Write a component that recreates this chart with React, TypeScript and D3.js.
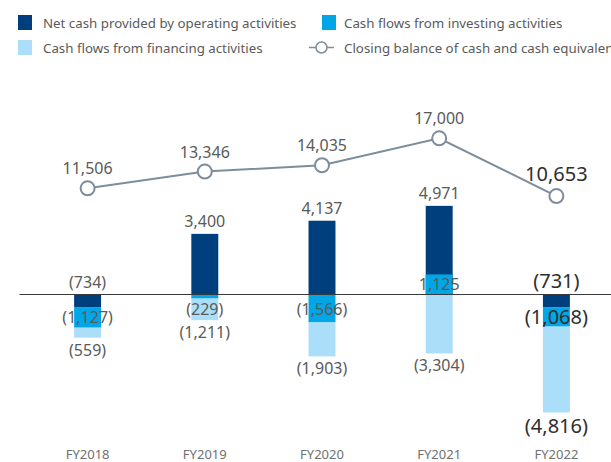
import React from "react";
import * as d3 from "d3";

const years = ["FY2018", "FY2019", "FY2020", "FY2021", "FY2022"];
const operating = [-734, 3400, 4137, 4971, -731];
const investing = [-1127, -229, -1566, 1125, -1068];
const financing = [-559, -1211, -1903, -3304, -4816];
const closing = [11506, 13346, 14035, 17000, 10653];
const seriesNames = [
  "Net cash provided by operating activities",
  "Cash flows from investing activities",
  "Cash flows from financing activities",
  "Closing balance of cash and cash equivalents",
];

const W = 611;
const H = 462;
const COLORS = ["#003f7d", "#00a6e6", "#abdef8"];
const LINE_COLOR = "#7d8d9b";
const TEXT = "#5a5a5a";
const TEXT_BOLD = "#2e2e2e";
const FONT = "'Noto Sans', 'Open Sans', sans-serif";

const fmt = (v: number) => {
  const s = d3.format(",")(Math.abs(v));
  return v < 0 ? `(${s})` : s;
};

export default function App() {
  const x = d3.scaleBand<string>().domain(years).range([29, 615]).paddingInner(0.77).paddingOuter(0.385);
  const yBar = d3.scaleLinear().domain([-6000, 6000]).range([294.5 + 107, 294.5 - 107]);
  const yLine = d3.scaleLinear().domain([0, 17000]).range([293, 138.3]);
  const zero = yBar(0);
  const series = [operating, investing, financing];

  // positive values drawn from zero (overlapping), negative values stacked downward
  const segs: { i: number; k: number; y0: number; y1: number; v: number }[] = [];
  years.forEach((_, i) => {
    let neg = 0;
    series.forEach((arr, k) => {
      const v = arr[i];
      if (v >= 0) segs.push({ i, k, y0: 0, y1: v, v });
      else {
        segs.push({ i, k, y0: neg, y1: neg + v, v });
        neg += v;
      }
    });
  });

  const line = d3
    .line<number>()
    .x((_, i) => x(years[i])! + x.bandwidth() / 2)
    .y((d) => yLine(d));

  const labels: JSX.Element[] = [];
  segs.forEach((s, idx) => {
    const cx = x(years[s.i])! + x.bandwidth() / 2;
    const big = s.i === years.length - 1;
    const fs = big ? 20 : 16;
    const top = yBar(Math.max(s.y0, s.y1));
    const bot = yBar(Math.min(s.y0, s.y1));
    let yText = 0;
    if (s.k === 0) {
      yText = s.v >= 0 ? top - 7 : zero - 7;
    } else if (s.k === 1) {
      const c = s.v >= 0 ? (top + bot) / 2 : Math.max((top + bot) / 2, zero + 15);
      yText = c + (big ? 7 : 5.5);
    } else {
      yText = bot + (big ? 21 : 18);
    }
    labels.push(
      <text
        key={`l${idx}`}
        x={cx}
        y={yText}
        textAnchor="middle"
        fontSize={fs}
        fill={big ? TEXT_BOLD : TEXT}
        fontFamily={FONT}
      >
        {fmt(s.v)}
      </text>
    );
  });

  return (
    <svg
      width={W}
      height={H}
      style={{ position: "absolute", left: 0, top: 0, background: "#fff" }}
      fontFamily={FONT}
    >
      {/* legend */}
      <g fontSize={13.3} fill={TEXT}>
        <rect x={18} y={15} width={14} height={15} fill={COLORS[0]} />
        <text x={43} y={28}>{seriesNames[0]}</text>
        <rect x={322} y={15} width={14} height={15} fill={COLORS[1]} />
        <text x={344} y={28}>{seriesNames[1]}</text>
        <rect x={18} y={40} width={14} height={15} fill={COLORS[2]} />
        <text x={43} y={53}>{seriesNames[2]}</text>
        <line x1={309} x2={334} y1={47.5} y2={47.5} stroke={LINE_COLOR} strokeWidth={1.5} />
        <circle cx={321.5} cy={47.5} r={5.5} fill="#fff" stroke={LINE_COLOR} strokeWidth={1.5} />
        <text x={344} y={53}>{seriesNames[3]}</text>
      </g>

      {/* bars */}
      {segs.map((s, idx) => (
        <rect
          key={`b${idx}`}
          x={x(years[s.i])}
          width={x.bandwidth()}
          y={yBar(Math.max(s.y0, s.y1))}
          height={Math.abs(yBar(s.y0) - yBar(s.y1))}
          fill={COLORS[s.k]}
        />
      ))}

      {/* zero line */}
      <line x1={19.5} x2={W} y1={zero} y2={zero} stroke="#3a3a3a" strokeWidth={1} />

      {labels}

      {/* closing balance line */}
      <path d={line(closing)!} fill="none" stroke={LINE_COLOR} strokeWidth={2} />
      {closing.map((v, i) => {
        const cx = x(years[i])! + x.bandwidth() / 2;
        const big = i === years.length - 1;
        return (
          <g key={`c${i}`}>
            <circle cx={cx} cy={yLine(v)} r={7} fill="#fff" stroke={LINE_COLOR} strokeWidth={2} />
            <text
              x={cx}
              y={yLine(v) - (big ? 15.5 : 14)}
              textAnchor="middle"
              fontSize={big ? 20 : 16}
              fill={big ? TEXT_BOLD : TEXT}
            >
              {d3.format(",")(v)}
            </text>
          </g>
        );
      })}

      {/* x axis labels */}
      {years.map((yr) => (
        <text
          key={yr}
          x={x(yr)! + x.bandwidth() / 2}
          y={459}
          textAnchor="middle"
          fontSize={13}
          fill="#707070"
        >
          {yr}
        </text>
      ))}
    </svg>
  );
}
